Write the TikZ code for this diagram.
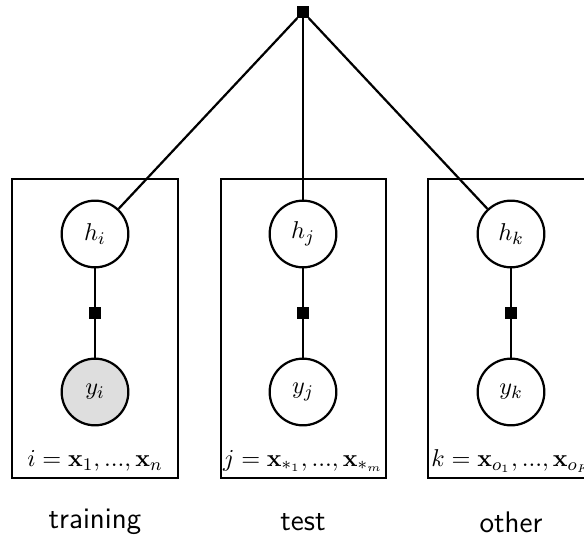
\documentclass[tikz,border=0pt]{standalone}
\usepackage{amsmath}
\begin{document}
\begin{tikzpicture}[x=0.45pt,y=-0.45pt,
  every node/.style={font=\fontsize{11}{13}\selectfont},
  latent/.style={circle,draw,line width=1pt,minimum size=30pt,inner sep=0pt},
  obs/.style={latent,fill=black!13},
  fac/.style={rectangle,fill=black,minimum size=5pt,inner sep=0pt},
  plate/.style={draw,line width=1pt},
  edge/.style={line width=1pt},
  captxt/.style={font=\sffamily\fontsize{13.4}{16}\selectfont}]
\useasboundingbox (0,0) rectangle (584,538);
% plates
\draw[plate] (12,179) rectangle (178,478);
\draw[plate] (221,179) rectangle (386,478);
\draw[plate] (428,179) rectangle (594,478);
% nodes
\node[fac] (f0) at (303,12) {};
\node[latent] (hi) at (95,234) {$h_i$};
\node[latent] (hj) at (303,234) {$h_j$};
\node[latent] (hk) at (511,234) {$h_k$};
\node[fac] (fi) at (95,313) {};
\node[fac] (fj) at (303,313) {};
\node[fac] (fk) at (511,313) {};
\node[obs] (yi) at (95,392) {$y_i$};
\node[latent] (yj) at (303,392) {$y_j$};
\node[latent] (yk) at (511,392) {$y_k$};
% plate labels
\node (li) at (95,461) {$i=\mathbf{x}_1,...,\mathbf{x}_n$};
\node (lj) at (303,461) {$j=\mathbf{x}_{*_1},...,\mathbf{x}_{*_m}$};
\node[anchor=west,inner sep=0pt] (lk) at (431,461) {$k=\mathbf{x}_{o_1},...,\mathbf{x}_{o_K}$};
% captions
\node[captxt] (ci) at (95,522) {training};
\node[captxt] (cj) at (303,522) {test};
\node[captxt] (ck) at (511,522) {other};
% edges
\draw[edge] (f0) -- (hi);
\draw[edge] (f0) -- (hj);
\draw[edge] (f0) -- (hk);
\draw[edge] (hi) -- (fi) -- (yi);
\draw[edge] (hj) -- (fj) -- (yj);
\draw[edge] (hk) -- (fk) -- (yk);
\end{tikzpicture}
\end{document}
